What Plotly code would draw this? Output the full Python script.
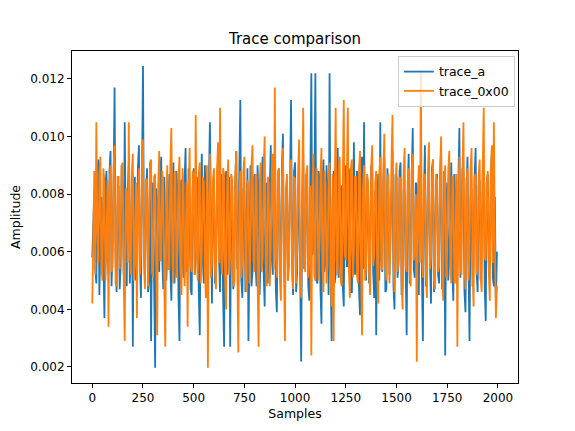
import plotly.graph_objects as go

# sample indices (every 5th sample of 2000)
samples = list(range(0, 2000, 5))

trace_a = [
    0.0058, 0.0071, 0.0081, 0.0054, 0.0049, 0.0086, 0.0092, 0.0045, 0.0063, 0.0079, 0.0075, 0.0051, 0.0037, 0.0083, 0.0088, 0.0060, 0.0052, 0.0088, 0.0095, 0.0048,
    0.0061, 0.0084, 0.0117, 0.0057, 0.0046, 0.0076, 0.0083, 0.0047, 0.0055, 0.0090, 0.0079, 0.0052, 0.0105, 0.0062, 0.0048, 0.0082, 0.0090, 0.0049, 0.0059, 0.0087,
    0.0027, 0.0080, 0.0086, 0.0050, 0.0064, 0.0089, 0.0097, 0.0056, 0.0044, 0.0085, 0.01245, 0.0061, 0.0057, 0.0078, 0.0089, 0.0046, 0.0050, 0.0091, 0.0029, 0.0073,
    0.0084, 0.0048, 0.00197, 0.0082, 0.0078, 0.0055, 0.0053, 0.0087, 0.0093, 0.0058, 0.0047, 0.0086, 0.0072, 0.0050, 0.0060, 0.0081, 0.0087, 0.0054, 0.0043, 0.0079,
    0.0091, 0.0049, 0.0056, 0.0088, 0.0080, 0.0045, 0.0029, 0.0083, 0.0085, 0.0060, 0.0051, 0.0084, 0.0096, 0.0053, 0.0062, 0.0089, 0.0074, 0.0047, 0.0045, 0.0082,
    0.0089, 0.0052, 0.0058, 0.0086, 0.0082, 0.0046, 0.0031, 0.0079, 0.0094, 0.0057, 0.0049, 0.0090, 0.0077, 0.0051, 0.0065, 0.0084, 0.0105, 0.0055, 0.0042, 0.0080,
    0.0086, 0.0049, 0.0054, 0.0083, 0.0092, 0.0058, 0.0046, 0.0087, 0.0079, 0.0044, 0.0027, 0.0081, 0.0088, 0.0052, 0.0057, 0.0086, 0.0027, 0.0078, 0.0083, 0.0047,
    0.0050, 0.0085, 0.0095, 0.0054, 0.0061, 0.0088, 0.01127, 0.0050, 0.0044, 0.0082, 0.0081, 0.0046, 0.0066, 0.0089, 0.0029, 0.0076, 0.0090, 0.0048, 0.0053, 0.0084,
    0.0087, 0.0056, 0.0048, 0.0090, 0.0076, 0.0045, 0.0059, 0.0085, 0.0093, 0.0053, 0.0041, 0.0081, 0.0084, 0.0049, 0.0063, 0.0087, 0.0097, 0.0058, 0.0052, 0.0083,
    0.0080, 0.0047, 0.0039, 0.0086, 0.0089, 0.0052, 0.0056, 0.0089, 0.0101, 0.0055, 0.0047, 0.0080, 0.0085, 0.0050, 0.0062, 0.0084, 0.01127, 0.0057, 0.0045, 0.0088,
    0.0091, 0.0046, 0.0053, 0.0083, 0.0078, 0.0051, 0.00218, 0.0077, 0.0094, 0.0054, 0.0058, 0.0087, 0.0082, 0.0048, 0.0043, 0.0085, 0.0122, 0.0059, 0.0060, 0.0082,
    0.0122, 0.0050, 0.0049, 0.0088, 0.0086, 0.0047, 0.0035, 0.0084, 0.0092, 0.0053, 0.0057, 0.0090, 0.0079, 0.0045, 0.0122, 0.0056, 0.0029, 0.0079, 0.0088, 0.0049,
    0.0052, 0.0086, 0.0096, 0.0051, 0.0063, 0.0082, 0.0083, 0.0048, 0.0041, 0.0087, 0.0090, 0.0055, 0.0055, 0.0089, 0.0077, 0.0046, 0.0046, 0.0083, 0.0098, 0.0052,
    0.0061, 0.0088, 0.0085, 0.0047, 0.0038, 0.0084, 0.0093, 0.0054, 0.0105, 0.0058, 0.0050, 0.0086, 0.0081, 0.0049, 0.0058, 0.0090, 0.0089, 0.0053, 0.0044, 0.0081,
    0.0031, 0.0078, 0.0087, 0.0050, 0.0105, 0.0057, 0.0053, 0.0085, 0.0092, 0.0046, 0.0047, 0.0089, 0.0080, 0.0052, 0.0064, 0.0083, 0.0095, 0.0048, 0.0040, 0.0087,
    0.0086, 0.0051, 0.0056, 0.0088, 0.0091, 0.0045, 0.0048, 0.0082, 0.0078, 0.0055, 0.0031, 0.0080, 0.0094, 0.0049, 0.0060, 0.0086, 0.0103, 0.0054, 0.0051, 0.0084,
    0.0083, 0.0050, 0.0045, 0.0087, 0.0089, 0.0053, 0.0029, 0.0079, 0.0097, 0.0048, 0.0057, 0.0085, 0.0080, 0.0056, 0.0042, 0.0089, 0.0092, 0.0046, 0.0062, 0.0083,
    0.0087, 0.0052, 0.0049, 0.0086, 0.0095, 0.0047, 0.0055, 0.0088, 0.0024, 0.0076, 0.0084, 0.0050, 0.0059, 0.0084, 0.0091, 0.0054, 0.0043, 0.0087, 0.0079, 0.0049,
    0.0052, 0.0085, 0.0103, 0.0051, 0.0064, 0.0089, 0.0088, 0.0046, 0.0039, 0.0082, 0.0093, 0.0055, 0.0029, 0.0078, 0.0082, 0.0048, 0.0057, 0.0086, 0.0096, 0.0053,
    0.0046, 0.0083, 0.0085, 0.0050, 0.0061, 0.0088, 0.0090, 0.0047, 0.0036, 0.0084, 0.0087, 0.0056, 0.0054, 0.0087, 0.0094, 0.0051, 0.0048, 0.0079, 0.0041, 0.0060,
]

trace_0x00 = [
    0.0042, 0.0076, 0.0088, 0.0052, 0.0105, 0.0068, 0.0056, 0.0087, 0.0093, 0.0055, 0.0050, 0.0089, 0.0084, 0.0050, 0.0061, 0.0085, 0.0034, 0.0081, 0.0090, 0.0053,
    0.0055, 0.0088, 0.0097, 0.0049, 0.0048, 0.0086, 0.0086, 0.0054, 0.0063, 0.0090, 0.0091, 0.0051, 0.0029, 0.0082, 0.0080, 0.0056, 0.0105, 0.0060, 0.0052, 0.0087,
    0.0094, 0.0050, 0.0058, 0.0084, 0.0037, 0.0079, 0.0089, 0.0052, 0.0060, 0.0089, 0.0099, 0.0055, 0.0047, 0.0085, 0.0085, 0.0048, 0.0066, 0.0091, 0.0092, 0.0053,
    0.0051, 0.0086, 0.0087, 0.0050, 0.0031, 0.0083, 0.0095, 0.0057, 0.0057, 0.0088, 0.0082, 0.0049, 0.0027, 0.0080, 0.0090, 0.0054, 0.0054, 0.0090, 0.0103, 0.0058,
    0.0049, 0.0087, 0.0088, 0.0051, 0.0062, 0.0085, 0.0093, 0.0053, 0.0045, 0.0089, 0.0083, 0.0048, 0.0058, 0.0084, 0.0034, 0.0080, 0.0096, 0.0055, 0.0053, 0.0088,
    0.0086, 0.0052, 0.01075, 0.0061, 0.0050, 0.0087, 0.0091, 0.0049, 0.0060, 0.0086, 0.0084, 0.0054, 0.0044, 0.0090, 0.00197, 0.0078, 0.0094, 0.0051, 0.0056, 0.0085,
    0.0089, 0.0053, 0.0047, 0.0088, 0.0098, 0.0056, 0.0110, 0.0058, 0.0052, 0.0089, 0.0087, 0.0050, 0.0040, 0.0084, 0.0092, 0.0052, 0.0059, 0.0087, 0.0085, 0.0048,
    0.0049, 0.0086, 0.0095, 0.0054, 0.0025, 0.0080, 0.0088, 0.0051, 0.0057, 0.0088, 0.0093, 0.0055, 0.0046, 0.0085, 0.0082, 0.0049, 0.0063, 0.0090, 0.0097, 0.0057,
    0.0053, 0.0087, 0.0086, 0.0050, 0.0027, 0.0083, 0.0091, 0.0053, 0.0058, 0.0089, 0.0100, 0.0056, 0.0048, 0.0086, 0.0084, 0.0048, 0.0061, 0.0088, 0.0094, 0.0054,
    0.0117, 0.0059, 0.0051, 0.0087, 0.0089, 0.0051, 0.0043, 0.0085, 0.0096, 0.0055, 0.0029, 0.0082, 0.0087, 0.0050, 0.0055, 0.0089, 0.0092, 0.0053, 0.0047, 0.0086,
    0.0085, 0.0049, 0.0060, 0.0088, 0.0099, 0.0054, 0.0044, 0.0084, 0.0110, 0.0058, 0.0053, 0.0087, 0.0090, 0.0051, 0.0058, 0.0083, 0.0024, 0.0081, 0.0094, 0.0052,
    0.0050, 0.0089, 0.0087, 0.0050, 0.0062, 0.0086, 0.0096, 0.0055, 0.0046, 0.0088, 0.0083, 0.0049, 0.0056, 0.0085, 0.0091, 0.0053, 0.0041, 0.0087, 0.0029, 0.0079,
    0.0110, 0.0057, 0.0052, 0.0088, 0.0093, 0.0050, 0.0048, 0.0085, 0.01127, 0.0059, 0.0057, 0.0087, 0.0110, 0.0054, 0.0044, 0.0089, 0.0092, 0.0051, 0.0061, 0.0086,
    0.0086, 0.0052, 0.0049, 0.0088, 0.0095, 0.0056, 0.0031, 0.0082, 0.0090, 0.0050, 0.0055, 0.0087, 0.0084, 0.0053, 0.0045, 0.0089, 0.0097, 0.0055, 0.0059, 0.0084,
    0.0088, 0.0051, 0.0042, 0.0087, 0.0093, 0.0054, 0.0054, 0.0088, 0.0101, 0.0056, 0.0050, 0.0085, 0.0087, 0.0049, 0.0063, 0.0090, 0.01075, 0.0058, 0.0046, 0.0083,
    0.0091, 0.0053, 0.0057, 0.0086, 0.0085, 0.0050, 0.0040, 0.0088, 0.0096, 0.0055, 0.0053, 0.0084, 0.0089, 0.0052, 0.0048, 0.0089, 0.0094, 0.0057, 0.0060, 0.0080,
    0.00218, 0.0079, 0.0090, 0.0056, 0.0123, 0.0060, 0.0051, 0.0086, 0.0087, 0.0052, 0.0044, 0.0088, 0.0098, 0.0054, 0.0058, 0.0085, 0.0092, 0.0050, 0.0047, 0.0087,
    0.0085, 0.0053, 0.0055, 0.0089, 0.0100, 0.0055, 0.0043, 0.0084, 0.0090, 0.0051, 0.0061, 0.0088, 0.0095, 0.0056, 0.0049, 0.0086, 0.0086, 0.0049, 0.0056, 0.0087,
    0.0027, 0.0080, 0.0093, 0.0054, 0.0052, 0.0088, 0.0105, 0.0057, 0.0047, 0.0085, 0.0089, 0.0050, 0.0058, 0.0089, 0.0096, 0.0053, 0.0041, 0.0086, 0.0087, 0.0052,
    0.0054, 0.0087, 0.0092, 0.0051, 0.0046, 0.0089, 0.0110, 0.0058, 0.0057, 0.0084, 0.0088, 0.0053, 0.0043, 0.0088, 0.0097, 0.0056, 0.0105, 0.0062, 0.0037, 0.0048,
]

x_ticks = [0, 250, 500, 750, 1000, 1250, 1500, 1750, 2000]
y_ticks = [0.002, 0.004, 0.006, 0.008, 0.010, 0.012]

font = "DejaVu Sans, sans-serif"

fig = go.Figure()
fig.add_trace(go.Scatter(x=samples, y=trace_a, mode="lines", name="trace_a",
                         line=dict(color="#1f77b4", width=1.8)))
fig.add_trace(go.Scatter(x=samples, y=trace_0x00, mode="lines", name="trace_0x00",
                         line=dict(color="#ff7f0e", width=1.8)))

axis_common = dict(showgrid=False, zeroline=False, showline=True, linecolor="black",
                   linewidth=1, mirror=True, ticks="outside", ticklen=4, tickwidth=1,
                   tickcolor="black", tickfont=dict(family=font, size=12, color="black"))

fig.update_layout(
    width=575, height=431,
    margin=dict(l=72, r=57, t=51, b=48),
    paper_bgcolor="white", plot_bgcolor="white",
    title=dict(text="Trace comparison", x=(72 + 518) / 2 / 575, xanchor="center",
               y=1 - 39 / 431, yanchor="middle",
               font=dict(family=font, size=15, color="black")),
    xaxis=dict(range=[-99.95, 2098.95], tickvals=x_ticks,
               title=dict(text="Samples", font=dict(family=font, size=12.5, color="black"),
                          standoff=4),
               **axis_common),
    yaxis=dict(range=[0.001444, 0.01297], tickvals=y_ticks, tickformat=".3f",
               title=dict(text="Amplitude", font=dict(family=font, size=12.5, color="black"),
                          standoff=6),
               **axis_common),
    legend=dict(x=0.993, xanchor="right", y=0.985, yanchor="top",
                bgcolor="rgba(255,255,255,0.8)", bordercolor="#cccccc", borderwidth=1,
                font=dict(family=font, size=12.5, color="black"),
                itemwidth=30, tracegroupgap=0),
    showlegend=True,
)

fig.write_html("out.html")
